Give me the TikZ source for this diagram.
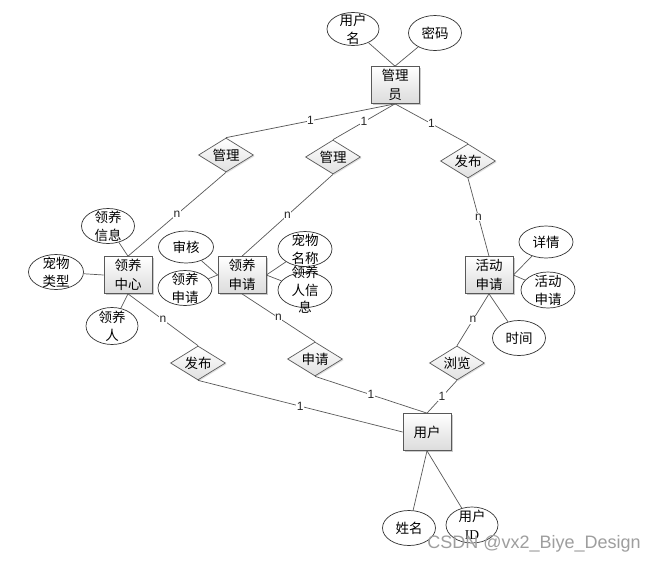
\documentclass[tikz,border=0pt]{standalone}
\usepackage{fontspec}
\setmainfont{Liberation Sans}
\newfontfamily\cjk{Noto Sans CJK SC}
\newfontfamily\serifid{Liberation Serif}
\usetikzlibrary{shapes.geometric,shadows}
\begin{document}
\begin{tikzpicture}[x=1pt,y=-1pt,
  conn/.style={draw=black!65, line width=0.7pt},
  ent/.style={rectangle, draw=black!65, line width=0.7pt, top color=white, bottom color=black!14,
    drop shadow={shadow xshift=1.6pt, shadow yshift=-1.6pt, fill=black!40, opacity=0.5},
    minimum width=48pt, minimum height=37pt, inner sep=0pt, align=center,
    font=\cjk\fontsize{13.5}{19}\selectfont},
  rel/.style={diamond, draw=black!65, line width=0.7pt, top color=white, bottom color=black!12,
    drop shadow={shadow xshift=1.2pt, shadow yshift=-1.2pt, fill=black!30, opacity=0.4},
    minimum width=55pt, minimum height=34pt, inner sep=0pt},
  attr/.style={ellipse, draw=black!80, line width=0.7pt, fill=white,
    minimum width=53pt, minimum height=35pt, inner sep=0pt},
  txt/.style={align=center, inner sep=0pt, font=\cjk\fontsize{13.5}{18}\selectfont},
  lab/.style={fill=white, inner sep=0.6pt, font=\fontsize{12}{12}\selectfont, text=black!85}
]
\useasboundingbox[fill=white] (0,0) rectangle (657,563);

% entities
\node[ent] (adm) at (395,85) {管理\\员};
\node[ent] (c1) at (128,275) {领养\\中心};
\node[ent] (c2) at (242,275) {领养\\申请};
\node[ent] (c3) at (489,275) {活动\\申请};
\node[ent] (user) at (427,432) {用户};

% relationships
\node[rel, label={[txt]center:管理}] (d1) at (226,155) {};
\node[rel, label={[txt]center:管理}] (d2) at (333,157) {};
\node[rel, label={[txt]center:发布}] (d3) at (468,161) {};
\node[rel, label={[txt]center:发布}] (d4) at (198,363) {};
\node[rel, label={[txt]center:申请}] (d5) at (315,359) {};
\node[rel, label={[txt]center:浏览}] (d6) at (457,363) {};

% attributes
\node[attr, minimum width=52pt, minimum height=33pt, label={[txt]center:{用户\\名}}] (a1) at (353,29) {};
\node[attr, label={[txt]center:密码}] (a2) at (435,33) {};
\node[attr, label={[txt]center:{领养\\信息}}] (a3) at (108,226) {};
\node[attr, minimum width=55pt, label={[txt]center:{宠物\\类型}}] (a4) at (56,272) {};
\node[attr, minimum width=52pt, minimum height=37pt, label={[txt]center:{领养\\人}}] (a5) at (112,326) {};
\node[attr, minimum width=55pt, minimum height=32pt, label={[txt]center:审核}] (a6) at (186,247) {};
\node[attr, minimum width=54pt, label={[txt]center:{领养\\申请}}] (a7) at (185,288) {};
\node[attr, minimum width=54pt, label={[txt]center:{宠物\\名称}}] (a8) at (305,249) {};
\node[attr, minimum width=54pt, label={[txt, font=\cjk\fontsize{13.5}{17.5}\selectfont]center:{领养\\人信\\息}}] (a9) at (305,290) {};
\node[attr, minimum width=54pt, minimum height=32pt, label={[txt]center:详情}] (a10) at (546,242) {};
\node[attr, minimum width=54pt, minimum height=36pt, label={[txt]center:{活动\\申请}}] (a11) at (548,290) {};
\node[attr, label={[txt]center:时间}] (a12) at (519,338) {};
\node[attr, label={[txt]center:姓名}] (a13) at (409,528) {};
\node[attr, minimum width=52pt, minimum height=36pt, label={[txt]center:{用户\\\serifid ID}}] (a14) at (472,525) {};

% attribute connectors
\draw[conn] (a1) -- (adm.north);
\draw[conn] (a2) -- (adm.north);
\draw[conn] (a3) -- (c1.north);
\draw[conn] (a4) -- (c1.west);
\draw[conn] (a5) -- (c1.south);
\draw[conn] (a6) -- (c2.west);
\draw[conn] (a7) -- (c2.west);
\draw[conn] (a8) -- (c2.east);
\draw[conn] (a9) -- (c2.east);
\draw[conn] (a10) -- (c3.east);
\draw[conn] (a11) -- (c3.east);
\draw[conn] (a12) -- (c3.south);
\draw[conn] (a13) -- (user.south);
\draw[conn] (a14) -- (user.south);

% relationship connectors
\draw[conn] (adm.south) -- node[lab] {1} (d1.north);
\draw[conn] (adm.south) -- node[lab] {1} (d2.north);
\draw[conn] (adm.south) -- node[lab] {1} (d3.north);
\draw[conn] (d1.south) -- node[lab] {n} (c1.north);
\draw[conn] (d2.south) -- node[lab] {n} (c2.north);
\draw[conn] (d3.south) -- node[lab] {n} (c3.north);
\draw[conn] (c1.south) -- node[lab] {n} (d4.north);
\draw[conn] (c2.south) -- node[lab] {n} (d5.north);
\draw[conn] (c3.south) -- node[lab] {n} (d6.north);
\draw[conn] (d4.south) -- node[lab] {1} (user.west);
\draw[conn] (d5.south) -- node[lab] {1} (user.north);
\draw[conn] (d6.south) -- node[lab] {1} (user.north);

% watermark
\node[text=black!38, inner sep=0pt, font=\fontsize{18}{18}\selectfont] (wm) at (534,544) {CSDN @vx2\_Biye\_Design};
\end{tikzpicture}
\end{document}
